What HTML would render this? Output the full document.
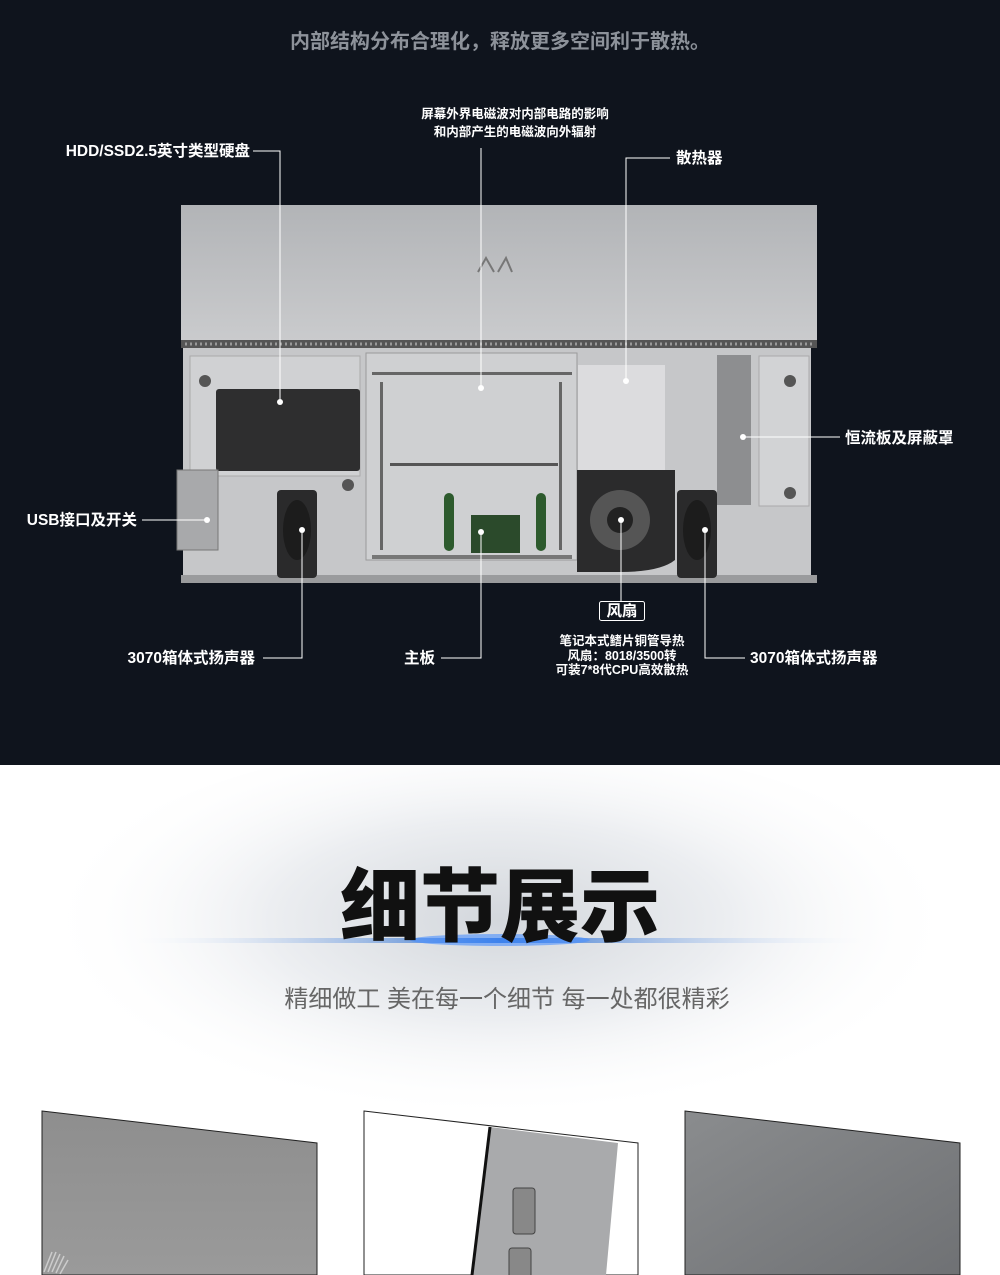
<!DOCTYPE html>
<html><head><meta charset="utf-8"><style>
html,body{margin:0;padding:0;width:1000px;height:1275px;overflow:hidden;background:#fff}
svg{display:block}
text{font-family:"Liberation Sans","Noto Sans CJK SC",sans-serif}
</style></head><body>
<svg width="1000" height="1275" viewBox="0 0 1000 1275" xmlns="http://www.w3.org/2000/svg">
<defs>
<radialGradient id="topglow" cx="0.5" cy="0" r="0.5"><stop offset="0" stop-color="#3a6fb0" stop-opacity="0.8"/><stop offset="1" stop-color="#0f141d" stop-opacity="0"/></radialGradient>
<linearGradient id="panel" x1="0" y1="0" x2="0" y2="1"><stop offset="0" stop-color="#b2b4b7"/><stop offset="1" stop-color="#cbccce"/></linearGradient>
<radialGradient id="wglow" cx="0.5" cy="0.45" r="0.5"><stop offset="0" stop-color="#d3d7dc"/><stop offset="0.5" stop-color="#eceef1"/><stop offset="1" stop-color="#ffffff" stop-opacity="0"/></radialGradient>
<linearGradient id="bline" x1="0" y1="0" x2="1" y2="0"><stop offset="0" stop-color="#fff" stop-opacity="0"/><stop offset="0.5" stop-color="#2d6fd0"/><stop offset="1" stop-color="#fff" stop-opacity="0"/></linearGradient>
<linearGradient id="g1" x1="0" y1="0" x2="0" y2="1"><stop offset="0" stop-color="#8e8e8e"/><stop offset="1" stop-color="#9a9a9a"/></linearGradient>
<linearGradient id="g3" x1="0" y1="0" x2="1" y2="1"><stop offset="0" stop-color="#8a8c8e"/><stop offset="1" stop-color="#6f7174"/></linearGradient>
<clipPath id="bot"><rect x="0" y="765" width="1000" height="510"/></clipPath>
</defs>
<rect x="0" y="0" width="1000" height="765" fill="#0f141d"/>
<ellipse cx="500" cy="0" rx="260" ry="18" fill="url(#topglow)"/>
<text x="500" y="48" font-size="20" fill="#8d929a" text-anchor="middle" font-weight="bold">内部结构分布合理化，释放更多空间利于散热。</text>

<rect x="181" y="205" width="636" height="142" fill="url(#panel)"/>
<path d="M478 272 L486 258 L494 272 M498 272 L506 258 L512 272" stroke="#777" stroke-width="2" fill="none"/>
<rect x="181" y="340" width="636" height="8" fill="#555"/>
<line x1="185" y1="344" x2="812" y2="344" stroke="#999" stroke-width="3" stroke-dasharray="2 3"/>
<rect x="183" y="348" width="628" height="234" fill="#c6c7c9"/>
<rect x="181" y="575" width="636" height="8" fill="#9a9b9d"/>
<rect x="190" y="356" width="170" height="120" fill="#d0d1d3" stroke="#aaa"/>
<rect x="216" y="389" width="144" height="82" rx="3" fill="#2e2e2f"/>
<rect x="366" y="353" width="211" height="207" fill="#cfd0d2" stroke="#9a9a9a"/>
<rect x="372" y="372" width="200" height="3" fill="#666"/>
<rect x="390" y="463" width="168" height="3" fill="#555"/>
<rect x="380" y="382" width="3" height="168" fill="#666"/>
<rect x="559" y="382" width="3" height="168" fill="#666"/>
<rect x="444" y="493" width="10" height="58" rx="5" fill="#2d5a2d"/>
<rect x="536" y="493" width="10" height="58" rx="5" fill="#2d5a2d"/>
<rect x="471" y="515" width="49" height="38" fill="#2b4a2b"/>
<rect x="372" y="555" width="200" height="4" fill="#777"/>
<rect x="578" y="365" width="87" height="105" fill="#dcdcde"/>
<path d="M577 470 H675 V560 Q660 572 620 572 H577 Z" fill="#2b2b2c"/>
<circle cx="620" cy="520" r="30" fill="#555"/>
<circle cx="620" cy="520" r="13" fill="#222"/>
<rect x="717" y="355" width="34" height="150" fill="#8d8e90"/>
<rect x="759" y="356" width="50" height="150" fill="#d2d3d5" stroke="#aaa"/>
<rect x="177" y="470" width="41" height="80" fill="#a8a9ab" stroke="#777"/>
<rect x="277" y="490" width="40" height="88" rx="4" fill="#2a2a2b"/>
<ellipse cx="297" cy="530" rx="14" ry="30" fill="#1c1c1c"/>
<rect x="677" y="490" width="40" height="88" rx="4" fill="#2a2a2b"/>
<ellipse cx="697" cy="530" rx="14" ry="30" fill="#1c1c1c"/>
<g fill="#555"><circle cx="205" cy="381" r="6"/><circle cx="348" cy="485" r="6"/><circle cx="790" cy="381" r="6"/><circle cx="790" cy="493" r="6"/></g>

<g stroke="#fff" stroke-width="1" fill="none">
<path d="M253 151 H280 V402"/>
<path d="M481 148 V388"/>
<path d="M670 158 H626 V381"/>
<path d="M743 437 H840"/>
<path d="M142 520 H207"/>
<path d="M263 658 H302 V530"/>
<path d="M441 658 H481 V532"/>
<path d="M621 520 V601"/>
<path d="M705 530 V658 H745"/>
<rect x="599.5" y="601.5" width="45" height="19" rx="2"/>
</g>
<g fill="#fff"><circle cx="280" cy="402" r="3"/><circle cx="481" cy="388" r="3"/><circle cx="626" cy="381" r="3"/><circle cx="743" cy="437" r="3"/><circle cx="207" cy="520" r="3"/><circle cx="302" cy="530" r="3"/><circle cx="481" cy="532" r="3"/><circle cx="621" cy="520" r="3"/><circle cx="705" cy="530" r="3"/></g>
<g fill="#fff" font-size="15.5" font-weight="bold">
<text x="250" y="156" text-anchor="end">HDD/SSD2.5英寸类型硬盘</text>
<text x="676" y="163">散热器</text>
<text x="845" y="443">恒流板及屏蔽罩</text>
<text x="137" y="525" text-anchor="end">USB接口及开关</text>
<text x="255" y="663" text-anchor="end">3070箱体式扬声器</text>
<text x="435" y="663" text-anchor="end">主板</text>
<text x="750" y="663">3070箱体式扬声器</text>
<text x="622" y="616" text-anchor="middle">风扇</text>
</g>
<g fill="#fff" font-size="12.5" text-anchor="middle" font-weight="bold">
<text x="515" y="118">屏幕外界电磁波对内部电路的影响</text>
<text x="515" y="136">和内部产生的电磁波向外辐射</text>
<text x="622" y="645">笔记本式鳍片铜管导热</text>
<text x="622" y="660">风扇：8018/3500转</text>
<text x="622" y="674">可装7*8代CPU高效散热</text>
</g>

<rect x="0" y="765" width="1000" height="510" fill="#fff"/>
<g clip-path="url(#bot)">
<ellipse cx="500" cy="940" rx="460" ry="200" fill="url(#wglow)"/>
</g>
<rect x="120" y="938" width="760" height="5" fill="url(#bline)"/>
<ellipse cx="500" cy="940" rx="90" ry="6" fill="#4a90ff" opacity="0.6"/>
<text x="500" y="935" font-size="80" font-weight="900" fill="#111" text-anchor="middle">细节展示</text>
<text x="507" y="1007" font-size="24" fill="#666" text-anchor="middle">精细做工 美在每一个细节 每一处都很精彩</text>

<polygon points="42,1111 317,1143 317,1275 42,1275" fill="url(#g1)" stroke="#222"/>
<g stroke="#ccc" stroke-width="1.5"><line x1="44" y1="1272" x2="52" y2="1252"/><line x1="48" y1="1272" x2="56" y2="1252"/><line x1="52" y1="1272" x2="60" y2="1254"/><line x1="56" y1="1273" x2="64" y2="1256"/><line x1="60" y1="1274" x2="68" y2="1260"/></g>
<polygon points="364,1111 638,1143 638,1275 364,1275" fill="#fff" stroke="#222"/>
<polygon points="490,1127 618,1143 606,1275 472,1275" fill="#a9aaac"/>
<line x1="490" y1="1127" x2="472" y2="1275" stroke="#111" stroke-width="3"/>
<rect x="513" y="1188" width="22" height="46" rx="3" fill="#888" stroke="#444"/>
<rect x="509" y="1248" width="22" height="30" rx="3" fill="#888" stroke="#444"/>
<polygon points="685,1111 960,1143 960,1275 685,1275" fill="url(#g3)" stroke="#222"/>
</svg>
</body></html>
